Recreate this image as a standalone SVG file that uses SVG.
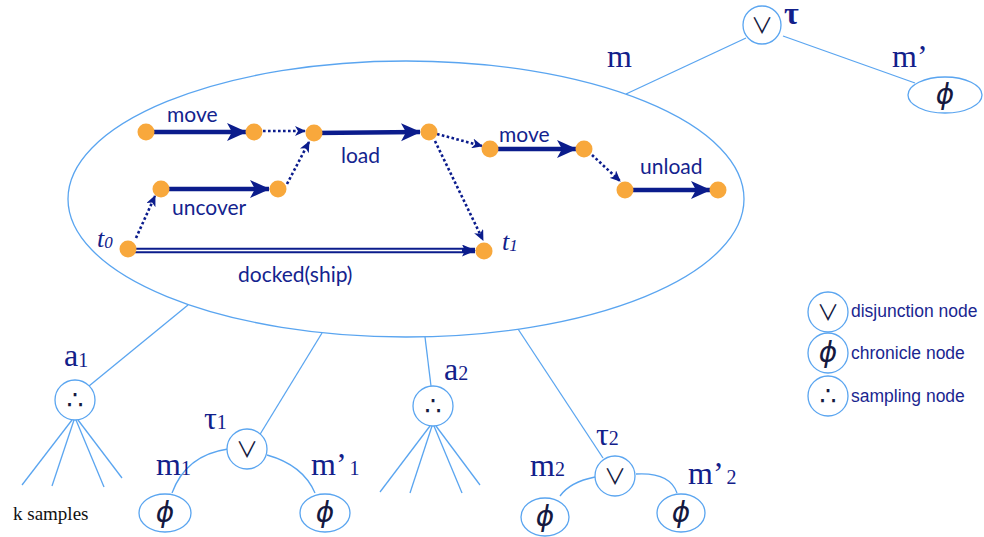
<svg xmlns="http://www.w3.org/2000/svg" width="984" height="537" viewBox="0 0 984 537">
<style>
.edge{stroke:#5aa5f0;stroke-width:1.3;fill:none}
.node{stroke:#5aa5f0;stroke-width:1.3;fill:#fff}
.sym{font-family:"DejaVu Sans",sans-serif;fill:#15193f;text-anchor:middle}
.vee{font-family:"Noto Sans CJK JP","DejaVu Sans",sans-serif;fill:#15193f;text-anchor:middle;font-size:22px}
.phi{font-family:"DejaVu Sans",sans-serif;font-style:italic;fill:#15193f;text-anchor:middle;font-size:28px}
.lbl{font-family:"Liberation Serif",serif;font-size:32px;fill:#12208a}
.sub{font-size:20px}
.act{font-family:Lato,"Open Sans",sans-serif;font-size:21px;fill:#13238e}
.leg{font-family:"Liberation Sans",Arial,sans-serif;font-size:17.5px;fill:#1a2690}
.thick{stroke:#0b1c8c;stroke-width:4.5;fill:none}
.dot{stroke:#0b1c8c;stroke-width:2.6;stroke-dasharray:2.6 2.4;fill:none}
.pt{fill:#f8a83c}
</style>
<defs>
<marker id="ah" markerUnits="userSpaceOnUse" markerWidth="20" markerHeight="20" viewBox="0 0 20 18" refX="19" refY="9" orient="auto">
<path d="M0,0 L20,9 L0,18 L5,9 z" fill="#0b1c8c"/>
</marker>
<marker id="ahs" markerUnits="userSpaceOnUse" markerWidth="11" markerHeight="10" viewBox="0 0 11 10" refX="10" refY="5" orient="auto">
<path d="M0,0 L11,5 L0,10 L3,5 z" fill="#0b1c8c"/>
</marker>
<marker id="ahd" markerUnits="userSpaceOnUse" markerWidth="14" markerHeight="12" viewBox="0 0 14 12" refX="13" refY="6" orient="auto">
<path d="M0,0 L14,6 L0,12 L3,6 z" fill="#0b1c8c"/>
</marker>
</defs>
<rect width="984" height="537" fill="#fff"/>

<g id="connectors">
<line class="edge" x1="746" y1="38" x2="626" y2="94"/>
<line class="edge" x1="783" y1="36" x2="915" y2="83"/>
<line class="edge" x1="188" y1="305" x2="89" y2="386"/>
<line class="edge" x1="322" y1="333" x2="259" y2="436"/>
<line class="edge" x1="425" y1="337" x2="431" y2="386"/>
<line class="edge" x1="518" y1="329" x2="603" y2="458"/>
<path class="edge" d="M228,449 Q186,455 172,493"/>
<path class="edge" d="M267,455 Q303,465 315,493"/>
<path class="edge" d="M595,477 Q570,482 560,496"/>
<path class="edge" d="M636,474 Q670,472 677,493"/>
<line class="edge" x1="72" y1="420" x2="22" y2="485"/>
<line class="edge" x1="74" y1="420" x2="52" y2="486"/>
<line class="edge" x1="76" y1="420" x2="104" y2="487"/>
<line class="edge" x1="78" y1="420" x2="122" y2="478"/>
<line class="edge" x1="430" y1="426" x2="380" y2="492"/>
<line class="edge" x1="432" y1="426" x2="410" y2="493"/>
<line class="edge" x1="434" y1="426" x2="462" y2="493"/>
<line class="edge" x1="436" y1="426" x2="480" y2="485"/>
</g>

<g id="plan">
<ellipse class="node" cx="406" cy="199" rx="338" ry="138" fill="none"/>
<g id="plan-connectors">
<line class="thick" x1="146" y1="132" x2="246" y2="132" marker-end="url(#ah)"/>
<line class="thick" x1="161" y1="189" x2="269" y2="189" marker-end="url(#ah)"/>
<line class="thick" x1="314" y1="133" x2="420" y2="132" marker-end="url(#ah)"/>
<line class="thick" x1="490" y1="149" x2="576" y2="149" marker-end="url(#ah)"/>
<line class="thick" x1="625" y1="190" x2="710" y2="190" marker-end="url(#ah)"/>
<line x1="128" y1="250.5" x2="475" y2="250.5" stroke="#0b1c8c" stroke-width="5.6" marker-end="url(#ahd)"/>
<line x1="128" y1="250.5" x2="462" y2="250.5" stroke="#fff" stroke-width="1.6"/>
<line class="dot" x1="263" y1="131" x2="305" y2="131" marker-end="url(#ahs)"/>
<line class="dot" x1="136" y1="238" x2="155" y2="196" marker-end="url(#ahs)"/>
<line class="dot" x1="287" y1="184" x2="309" y2="142" marker-end="url(#ahs)"/>
<line class="dot" x1="437" y1="134" x2="482" y2="146" marker-end="url(#ahs)"/>
<line class="dot" x1="435" y1="141" x2="483" y2="240" marker-end="url(#ahs)"/>
<line class="dot" x1="592" y1="155" x2="620" y2="181" marker-end="url(#ahs)"/>
</g>
<circle class="pt" cx="146" cy="132" r="8.5"/>
<circle class="pt" cx="254" cy="132" r="8.5"/>
<circle class="pt" cx="314" cy="133" r="8.5"/>
<circle class="pt" cx="161" cy="189" r="8.5"/>
<circle class="pt" cx="278" cy="189" r="8.5"/>
<circle class="pt" cx="429" cy="132" r="8.5"/>
<circle class="pt" cx="490" cy="149" r="8.5"/>
<circle class="pt" cx="584" cy="149" r="8.5"/>
<circle class="pt" cx="625" cy="190" r="8.5"/>
<circle class="pt" cx="718" cy="190" r="8.5"/>
<circle class="pt" cx="128" cy="249" r="8.5"/>
<circle class="pt" cx="484" cy="251" r="8.5"/>
<text class="act" x="167" y="122">move</text>
<text class="act" x="172" y="215">uncover</text>
<text class="act" x="341" y="163">load</text>
<text class="act" x="238" y="282">docked(ship)</text>
<text class="act" x="499" y="142">move</text>
<text class="act" x="640" y="174">unload</text>
<text x="97" y="247" font-family="Liberation Serif,serif" font-style="italic" font-size="26" fill="#12208a">t<tspan font-size="17" dy="1">0</tspan></text>
<text x="502" y="250" font-family="Liberation Serif,serif" font-style="italic" font-size="26" fill="#12208a">t<tspan font-size="17" dy="1">1</tspan></text>
</g>

<g id="root-tau">
<circle class="node" cx="762" cy="25" r="19"/>
<text class="vee" x="762" y="33">∨</text>
<text class="lbl" x="784" y="24" font-weight="bold" font-size="24">τ</text>
</g>
<text class="lbl" x="607" y="67">m</text>
<text class="lbl" x="892" y="67">m’</text>

<g id="m-prime">
<ellipse class="node" cx="945" cy="95" rx="37" ry="18"/>
<text class="phi" x="945" y="104">ϕ</text>
</g>

<g id="a1">
<circle class="node" cx="75" cy="400" r="20"/>
<text class="sym" x="75" y="409" font-size="26">∴</text>
<text class="lbl" x="64" y="366">a<tspan class="sub" dy="1">1</tspan></text>
</g>
<text x="13" y="520" font-family="Liberation Serif,serif" font-size="19" fill="#111">k samples</text>

<g id="tau1">
<circle class="node" cx="247" cy="449" r="20"/>
<text class="vee" x="247" y="457">∨</text>
<text class="lbl" x="204" y="429">τ<tspan class="sub">1</tspan></text>
</g>
<g id="m1">
<ellipse class="node" cx="165" cy="513" rx="26" ry="19"/>
<text class="phi" x="165" y="522">ϕ</text>
<text class="lbl" x="156" y="475">m<tspan class="sub">1</tspan></text>
</g>
<g id="m1p">
<ellipse class="node" cx="325" cy="513" rx="25" ry="19"/>
<text class="phi" x="325" y="522">ϕ</text>
<text class="lbl" x="311" y="475">m’<tspan class="sub" dx="3">1</tspan></text>
</g>

<g id="a2">
<circle class="node" cx="433" cy="406" r="20"/>
<text class="sym" x="433" y="415" font-size="26">∴</text>
<text class="lbl" x="444" y="380">a<tspan class="sub">2</tspan></text>
</g>

<g id="tau2">
<circle class="node" cx="615" cy="476" r="20"/>
<text class="vee" x="615" y="484">∨</text>
<text class="lbl" x="596" y="445">τ<tspan class="sub">2</tspan></text>
</g>
<g id="m2">
<ellipse class="node" cx="545" cy="517" rx="24" ry="19"/>
<text class="phi" x="545" y="526">ϕ</text>
<text class="lbl" x="530" y="476">m<tspan class="sub">2</tspan></text>
</g>
<g id="m2p">
<ellipse class="node" cx="681" cy="513" rx="24" ry="19"/>
<text class="phi" x="681" y="522">ϕ</text>
<text class="lbl" x="688" y="484">m’<tspan class="sub" dx="3">2</tspan></text>
</g>

<g id="legend">
<g id="legend-disjunction">
<circle class="node" cx="828" cy="312" r="20"/>
<text class="vee" x="828" y="320">∨</text>
<text class="leg" x="851" y="317">disjunction node</text>
</g>
<g id="legend-chronicle">
<circle class="node" cx="828" cy="353" r="20"/>
<text class="phi" x="828" y="362">ϕ</text>
<text class="leg" x="851" y="359">chronicle node</text>
</g>
<g id="legend-sampling">
<circle class="node" cx="828" cy="396" r="20"/>
<text class="sym" x="828" y="405" font-size="26">∴</text>
<text class="leg" x="851" y="402">sampling node</text>
</g>
</g>
</svg>
